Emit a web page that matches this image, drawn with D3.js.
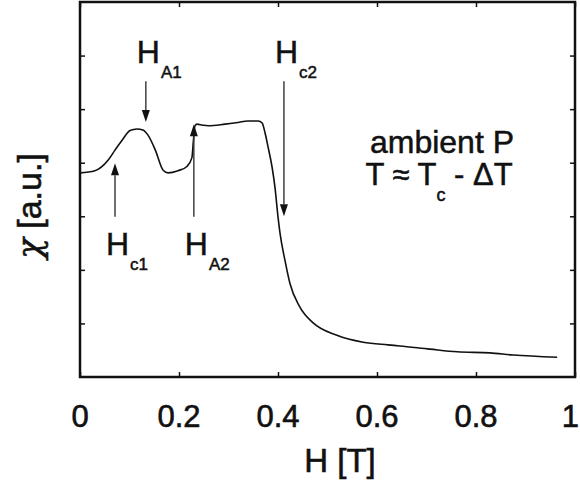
<!DOCTYPE html>
<html lang="en">
  <head>
    <meta charset="UTF-8" />
    <title>chi vs H</title>
    <style>
      body {
        margin: 0;
        background: #fff;
      }
      text {
        font-family: "Liberation Sans", Arial, Helvetica, sans-serif;
        fill: #111;
      }
    </style>
    <script src="https://d3js.org/d3.v7.min.js"></script>
  </head>
  <body>
    <div id="chart"></div>

    <script>
      // field H [T] and susceptibility chi [a.u.]
      const hField = [
        0, 0.03, 0.057, 0.071, 0.085, 0.101, 0.115, 0.127, 0.137, 0.152,
        0.168, 0.178, 0.198, 0.216, 0.226, 0.229, 0.232, 0.236, 0.248,
        0.259, 0.293, 0.319, 0.339, 0.36, 0.368, 0.374, 0.38, 0.388, 0.394,
        0.4, 0.404, 0.414, 0.424, 0.444, 0.471, 0.519, 0.572, 0.622, 0.646,
        0.707, 0.762, 0.828, 0.875, 0.964,
      ];
      const chi = [
        3.81, 3.85, 4.05, 4.24, 4.42, 4.6, 4.63, 4.61, 4.52, 4.24, 3.86,
        3.81, 3.85, 3.93, 4.09, 4.4, 4.68, 4.72, 4.7, 4.69, 4.72, 4.75,
        4.78, 4.78, 4.74, 4.55, 4.29, 3.92, 3.53, 2.99, 2.69, 2.18, 1.75,
        1.31, 1.01, 0.78, 0.65, 0.6, 0.58, 0.52, 0.47, 0.45, 0.41, 0.37,
      ];

      const xTicks = [0, 0.2, 0.4, 0.6, 0.8, 1];
      const xTickLabels = ["0", "0.2", "0.4", "0.6", "0.8", "1"];
      const yTicks = [1, 2, 3, 4, 5, 6];

      // arrows: subscript, field, tail chi, tip chi
      const arrowNames = ["Hc1", "HA1", "HA2", "Hc2"];
      const arrowSub = ["c1", "A1", "A2", "c2"];
      const arrowH = [0.0707, 0.133, 0.23, 0.412];
      const arrowTail = [2.99, 5.52, 2.99, 5.52];
      const arrowTip = [3.99, 4.76, 4.72, 3.0];

      const width = 580;
      const height = 486;
      const plot = { left: 80, right: 575, top: 2, bottom: 377 };

      const svg = d3
        .select("#chart")
        .append("svg")
        .attr("width", width)
        .attr("height", height);

      const x = d3.scaleLinear().domain([0, 1]).range([plot.left, plot.right]);
      const y = d3.scaleLinear().domain([0, 7]).range([plot.bottom, plot.top]);

      // inward ticks on all four sides
      const tickLen = 5;
      svg
        .append("g")
        .attr("transform", `translate(0,${plot.bottom})`)
        .call(d3.axisTop(x).tickValues(xTicks).tickSize(tickLen).tickFormat(""))
        .call((g) => g.select(".domain").remove());
      svg
        .append("g")
        .attr("transform", `translate(0,${plot.top})`)
        .call(d3.axisBottom(x).tickValues(xTicks).tickSize(tickLen).tickFormat(""))
        .call((g) => g.select(".domain").remove());
      svg
        .append("g")
        .attr("transform", `translate(${plot.left},0)`)
        .call(d3.axisRight(y).tickValues(yTicks).tickSize(tickLen).tickFormat(""))
        .call((g) => g.select(".domain").remove());
      svg
        .append("g")
        .attr("transform", `translate(${plot.right},0)`)
        .call(d3.axisLeft(y).tickValues(yTicks).tickSize(tickLen).tickFormat(""))
        .call((g) => g.select(".domain").remove());
      svg.selectAll(".tick line").attr("stroke", "#111").attr("stroke-width", 1.5);

      // frame
      svg
        .append("rect")
        .attr("x", plot.left)
        .attr("y", plot.top)
        .attr("width", plot.right - plot.left)
        .attr("height", plot.bottom - plot.top)
        .attr("fill", "none")
        .attr("stroke", "#111")
        .attr("stroke-width", 2.5);

      // x tick labels (the last one sits against the right edge)
      svg
        .selectAll(".xlab")
        .data(xTicks)
        .enter()
        .append("text")
        .attr("class", "xlab")
        .attr("x", (d, i) => (i === xTicks.length - 1 ? 579 : x(d)))
        .attr("y", 427)
        .attr("text-anchor", (d, i) => (i === xTicks.length - 1 ? "end" : "middle"))
        .style("font-size", "31px")
        .style("stroke", "#111")
        .style("stroke-width", 0.6)
        .text((d, i) => xTickLabels[i]);

      // axis titles
      svg
        .append("text")
        .attr("x", 340)
        .attr("y", 472)
        .attr("text-anchor", "middle")
        .style("font-size", "33px")
        .style("stroke", "#111")
        .style("stroke-width", 0.6)
        .text("H [T]");

      const ylab = svg
        .append("text")
        .attr("transform", "translate(41,206) rotate(-90)")
        .attr("text-anchor", "middle")
        .style("font-size", "34px")
        .style("stroke", "#111")
        .style("stroke-width", 0.6);
      ylab
        .append("tspan")
        .style("font-family", "'DejaVu Serif', serif")
        .style("font-style", "italic")
        .text("χ");
      ylab.append("tspan").text(" [a.u.]");

      // data curve
      const points = hField.map((h, i) => [h, chi[i]]);
      const line = d3
        .line()
        .x((d) => x(d[0]))
        .y((d) => y(d[1]))
        .curve(d3.curveMonotoneX);
      svg
        .append("path")
        .datum(points)
        .attr("d", line)
        .attr("fill", "none")
        .attr("stroke", "#111")
        .attr("stroke-width", 1.6);

      // annotation arrows
      arrowNames.forEach((name, i) => {
        const ax = x(arrowH[i]);
        const yTail = y(arrowTail[i]);
        const yTip = y(arrowTip[i]);
        const dir = yTip > yTail ? 1 : -1;
        const headLen = 12;
        svg
          .append("line")
          .attr("x1", ax)
          .attr("x2", ax)
          .attr("y1", yTail)
          .attr("y2", yTip - dir * headLen)
          .attr("stroke", "#333")
          .attr("stroke-width", 1.4);
        svg
          .append("path")
          .attr(
            "d",
            `M${ax},${yTip} L${ax - 4},${yTip - dir * headLen} L${ax + 4},${yTip - dir * headLen} Z`
          )
          .attr("fill", "#111");

        // label above tail for down arrows, below tail for up arrows
        const baseY = dir === 1 ? yTail - 18 : yTail + 38;
        const lab = svg
          .append("text")
          .attr("x", ax - 9)
          .attr("y", baseY)
          .style("font-size", "32px")
          .style("stroke", "#111")
          .style("stroke-width", 0.5);
        lab.append("tspan").text("H");
        lab
          .append("tspan")
          .attr("dx", 1)
          .attr("dy", 15)
          .style("font-size", "17px")
          .text(arrowSub[i]);
      });

      // condition text
      svg
        .append("text")
        .attr("x", 442)
        .attr("y", 153)
        .attr("text-anchor", "middle")
        .style("font-size", "32px")
        .style("stroke", "#111")
        .style("stroke-width", 0.5)
        .text("ambient P");

      const cond = svg
        .append("text")
        .attr("x", 439)
        .attr("y", 185)
        .attr("text-anchor", "middle")
        .style("font-size", "31px")
        .style("stroke", "#111")
        .style("stroke-width", 0.5);
      cond.append("tspan").text("T ≈ T");
      cond
        .append("tspan")
        .attr("dy", 16)
        .style("font-size", "18px")
        .text("c");
      cond.append("tspan").attr("dy", -16).text(" - ΔT");
    </script>
  </body>
</html>
